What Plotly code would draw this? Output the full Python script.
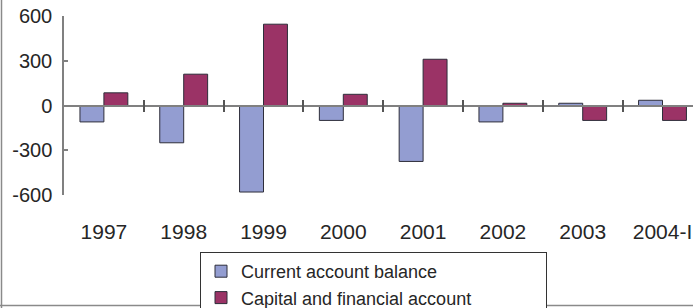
import plotly.graph_objects as go

years = ["1997", "1998", "1999", "2000", "2001", "2002", "2003", "2004-I"]
current_account = [-110, -250, -580, -100, -375, -110, 15, 35]
capital_financial = [85, 210, 545, 75, 310, 15, -100, -100]
y_ticks = [-600, -300, 0, 300, 600]
y_tick_text = ["-600", "-300", "0", "300", "600"]

pos = list(range(len(years)))
bounds = [p + 0.5 for p in pos]

FONT = "Liberation Sans, Arial, sans-serif"
TXT = "#262626"
AX = "#808080"

W, H = 693, 308
L, T, B = 64, 16, 113
pw, ph = W - L, H - T - B
xr = [-0.5, -0.5 + pw / 79.8]

fig = go.Figure()
fig.add_trace(go.Bar(x=pos, y=current_account, name="Current account balance",
                     marker=dict(color="#939dd1", line=dict(color="#2e2e3a", width=1))))
fig.add_trace(go.Bar(x=pos, y=capital_financial, name="Capital and financial account",
                     marker=dict(color="#9b3366", line=dict(color="#2e2e3a", width=1))))
# helper invisible traces so the zero-line axes are drawn
for xa in ("x2", "x3"):
    fig.add_trace(go.Scatter(x=bounds, y=[0] * len(bounds), xaxis=xa, mode="markers",
                             marker=dict(opacity=0), showlegend=False, hoverinfo="skip"))

fig.update_layout(
    width=W, height=H,
    margin=dict(l=L, r=0, t=T, b=B, autoexpand=False),
    paper_bgcolor="white", plot_bgcolor="white",
    barmode="group", bargap=0.4, bargroupgap=0,
    font=dict(family=FONT, size=19, color=TXT),
    xaxis=dict(range=xr, tickmode="array", tickvals=pos, ticktext=years,
               showline=False, showgrid=False, zeroline=False, ticks="",
               ticklabelstandoff=22, tickfont=dict(size=21, color=TXT)),
    xaxis2=dict(range=xr, overlaying="x", anchor="free", position=0.5,
                tickmode="array", tickvals=bounds, showticklabels=False,
                showline=True, linecolor=AX, linewidth=1.5, ticks="outside",
                ticklen=6, tickcolor="#555", tickwidth=1.5, showgrid=False, zeroline=False),
    xaxis3=dict(range=xr, overlaying="x", anchor="free", position=0.5,
                tickmode="array", tickvals=bounds, showticklabels=False,
                showline=False, ticks="inside", ticklen=6, tickcolor="#555",
                tickwidth=1.5, showgrid=False, zeroline=False),
    yaxis=dict(range=[-600, 600], tickmode="array", tickvals=y_ticks, ticktext=y_tick_text,
               showline=True, linecolor=AX, linewidth=1.5, ticks="inside",
               ticklen=4, tickcolor=AX, tickwidth=1.5, showgrid=False, zeroline=False,
               ticklabelstandoff=6, tickfont=dict(size=20, color=TXT)),
    legend=dict(x=(200 - L) / pw, y=(195 - 252) / ph, xanchor="left", yanchor="top",
                orientation="h", entrywidth=300, entrywidthmode="pixels",
                bordercolor="#333", borderwidth=1, bgcolor="white",
                font=dict(size=18, color=TXT), tracegroupgap=0, itemwidth=30),
    showlegend=True,
)
fig.add_shape(type="line", xref="paper", yref="paper",
              x0=(1.5 - L) / pw, x1=(1.5 - L) / pw, y0=(195 + 5) / ph, y1=(195 - 310) / ph,
              line=dict(color="#8a8a8a", width=1.5))
fig.add_shape(type="line", xref="paper", yref="paper",
              x0=(0 - L) / pw, x1=1.02, y0=(195 - 305.5) / ph, y1=(195 - 305.5) / ph,
              line=dict(color="#8a8a8a", width=1.5))

fig.write_html("out.html", config={"displayModeBar": False},
               post_script="document.body.style.margin='0';")
